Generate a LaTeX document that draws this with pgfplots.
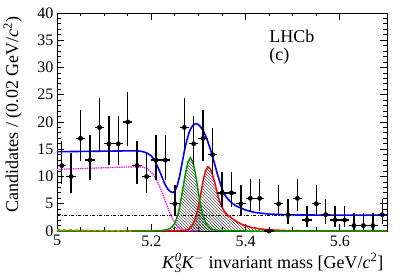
\documentclass[border=0pt]{standalone}
\usepackage{amsmath}
\usepackage{fontspec}
\setmainfont{Liberation Serif}
\usepackage{pgfplots}
\pgfplotsset{compat=1.18}
\usetikzlibrary{patterns}
\definecolor{rgreen}{RGB}{0,150,0}
\definecolor{rorange}{RGB}{255,128,0}
\definecolor{rmag}{RGB}{255,0,255}
\begin{document}
\begin{tikzpicture}
\path[use as bounding box] (0,0) rectangle (407bp,276bp);
\begin{axis}[
  at={(57bp,45bp)}, anchor=south west,
  scale only axis, width=330bp, height=218bp,
  xmin=5, xmax=5.7, ymin=0, ymax=40,
  xtick={5,5.2,5.4,5.6}, xticklabels={5,5.2,5.4,5.6},
  minor x tick num=3,
  ytick={0,5,...,40}, minor y tick num=4,
  tick align=inside, xtick pos=both, ytick pos=both,
  major tick length=7bp, minor tick length=3.5bp,
  axis line style={line width=0.9bp},
  every tick/.style={black, line width=0.8bp},
  /pgf/number format/assume math mode=true,
  ticklabel style={font=\fontsize{16bp}{18bp}\selectfont},
  xticklabel style={yshift=-1bp},
  label style={font=\fontsize{18bp}{20bp}\selectfont},
  xlabel={\textit{K}$^{\textit{0}}_{\textit{S}}$\textit{K}$^{-}$ invariant mass [GeV/\textit{c}\textsuperscript{2}]},
  xlabel style={at={(axis description cs:1,0)}, anchor=base east, yshift=-37bp},
  ylabel={Candidates / (0.02 GeV/\textit{c}\textsuperscript{2})},
  ylabel style={at={(axis description cs:-0.118,1)}, anchor=base east},
  clip=false,
]
% hatched signal areas
\addplot[draw=none, pattern=north west lines, pattern color=black!80] table {
5.20 0
5.223 0.1
5.233 0.25
5.238 0.4
5.243 0.7
5.248 1.2
5.253 2.1
5.258 3.5
5.263 5.8
5.268 8.3
5.273 10.8
5.278 12.7
5.283 13.45
5.288 12.7
5.293 10.8
5.298 8.2
5.303 5.5
5.308 3.35
5.313 2.0
5.318 1.1
5.323 0.6
5.328 0.35
5.333 0.2
5.343 0.08
5.36 0.02
5.40 0
} \closedcycle;
\addplot[draw=none, pattern=north west lines, pattern color=black!80] table {
5.25 0.01
5.26 0.03
5.27 0.1
5.275 0.2
5.28 0.4
5.285 0.9
5.29 1.6
5.295 2.7
5.30 4.6
5.305 6.8
5.31 9.3
5.315 11.0
5.32 11.8
5.325 11.4
5.33 10.3
5.335 8.8
5.34 6.9
5.345 5.4
5.35 4.4
5.355 3.6
5.36 3.1
5.37 2.4
5.38 1.8
5.39 1.3
5.40 1.0
5.41 0.7
5.43 0.4
5.45 0.22
5.48 0.1
5.52 0.04
5.60 0
} \closedcycle;
\addplot[draw=none, pattern=north east lines, pattern color=black!80] table {
5.25 0.01
5.26 0.03
5.27 0.1
5.275 0.2
5.28 0.4
5.285 0.9
5.29 1.6
5.295 2.7
5.30 4.6
5.302 5.5
5.303 5.5
5.308 3.35
5.313 2.0
5.318 1.1
5.323 0.6
5.328 0.35
5.333 0.2
5.343 0.08
5.36 0.02
5.40 0
} \closedcycle;
% combinatorial background
\addplot[black, line width=0.8bp, dash pattern=on 3bp off 1.6bp on 0.8bp off 1.6bp] table {
5.0 2.9
5.7 2.9
};
% partially reconstructed
\addplot[rmag, line width=1.3bp, densely dotted] table {
5.00 11.3
5.05 11.45
5.10 11.6
5.15 11.75
5.17 11.8
5.18 11.75
5.19 11.5
5.20 10.8
5.205 10.3
5.21 9.6
5.215 8.7
5.22 7.7
5.225 6.6
5.23 5.4
5.235 4.3
5.24 3.2
5.245 2.3
5.25 1.5
5.255 0.9
5.26 0.5
5.27 0.15
5.28 0.03
5.30 0
};
% misidentified background
\addplot[red, line width=1.5bp] table {
5.00 0
5.20 0
5.25 0.01
5.26 0.03
5.27 0.1
5.275 0.2
5.28 0.4
5.285 0.9
5.29 1.6
5.295 2.7
5.30 4.6
5.305 6.8
5.31 9.3
5.315 11.0
5.32 11.8
5.325 11.4
5.33 10.3
5.335 8.8
5.34 6.9
5.345 5.4
5.35 4.4
5.355 3.6
5.36 3.1
5.37 2.4
5.38 1.8
5.39 1.3
5.40 1.0
5.41 0.7
5.43 0.4
5.45 0.22
5.48 0.1
5.52 0.04
5.60 0.01
5.70 0
};
% signal
\addplot[rgreen, line width=1.5bp] table {
5.00 0
5.15 0
5.20 0.02
5.223 0.1
5.233 0.25
5.238 0.4
5.243 0.7
5.248 1.2
5.253 2.1
5.258 3.5
5.263 5.8
5.268 8.3
5.273 10.8
5.278 12.7
5.283 13.45
5.288 12.7
5.293 10.8
5.298 8.2
5.303 5.5
5.308 3.35
5.313 2.0
5.318 1.1
5.323 0.6
5.328 0.35
5.333 0.2
5.343 0.08
5.36 0.02
5.40 0
5.70 0
};
% small component
\addplot[rorange, line width=1.3bp, dashed] table {
5.00 0.25
5.04 0.2
5.08 0.1
5.12 0.03
5.16 0
};
% total fit
\addplot[blue, line width=1.6bp] table {
5.00 14.55
5.05 14.6
5.10 14.65
5.15 14.7
5.17 14.7
5.18 14.6
5.19 14.35
5.20 13.8
5.205 13.2
5.21 12.4
5.215 11.5
5.22 10.5
5.225 9.4
5.23 8.4
5.235 7.7
5.24 7.25
5.245 7.05
5.25 7.3
5.255 8.3
5.26 10.0
5.265 12.3
5.27 14.6
5.275 16.5
5.28 18.0
5.285 19.0
5.29 19.55
5.295 19.7
5.30 19.5
5.305 19.05
5.31 18.4
5.315 17.5
5.32 16.4
5.325 15.1
5.33 13.7
5.335 12.1
5.34 10.5
5.345 9.1
5.35 7.8
5.355 6.8
5.36 6.1
5.37 5.2
5.38 4.6
5.39 4.2
5.40 3.85
5.42 3.4
5.45 3.1
5.50 2.95
5.60 2.9
5.70 2.9
};
% data
\addplot[black, only marks, mark=*, mark size=2.2bp,
  error bars/.cd, y dir=both, y explicit, x dir=both, x fixed=0.01,
  error mark=none, error bar style={line width=1.4bp, black}]
  table[x=x, y=y, y error plus=ep, y error minus=em] {
x y ep em
5.01 12 4.56 3.42
5.03 10 4.27 3.11
5.05 17 5.20 4.08
5.07 13 4.70 3.56
5.09 19 5.44 4.32
5.11 16 5.08 3.96
5.13 16 5.08 3.96
5.15 20 5.55 4.43
5.17 12 4.56 3.42
5.19 10 4.27 3.11
5.21 13 4.70 3.56
5.23 13 4.70 3.56
5.25 5 3.38 2.16
5.27 19 5.44 4.32
5.29 16 5.08 3.96
5.31 17 5.20 4.08
5.33 14 4.83 3.70
5.35 7 3.77 2.58
5.37 7 3.77 2.58
5.39 5 3.38 2.16
5.41 6 3.58 2.38
5.43 6 3.58 2.38
5.45 0 0 0
5.47 5 3.38 2.16
5.49 3 2.92 1.63
5.51 6 3.58 2.38
5.53 2 2.64 1.29
5.55 5 3.38 2.16
5.57 3 2.92 1.63
5.59 2 2.64 1.29
5.61 2 2.64 1.29
5.63 1 2.30 0.83
5.65 1 2.30 0.83
5.67 1 2.30 0.83
5.69 3 2.92 1.63
};
\node[anchor=base west, font=\fontsize{18bp}{20bp}\selectfont, inner sep=0pt] at (axis cs:5.45,34.5) {LHCb};
\node[anchor=base west, font=\fontsize{18bp}{20bp}\selectfont, inner sep=0pt] at (axis cs:5.45,31.3) {(c)};
\end{axis}
\end{tikzpicture}
\end{document}
